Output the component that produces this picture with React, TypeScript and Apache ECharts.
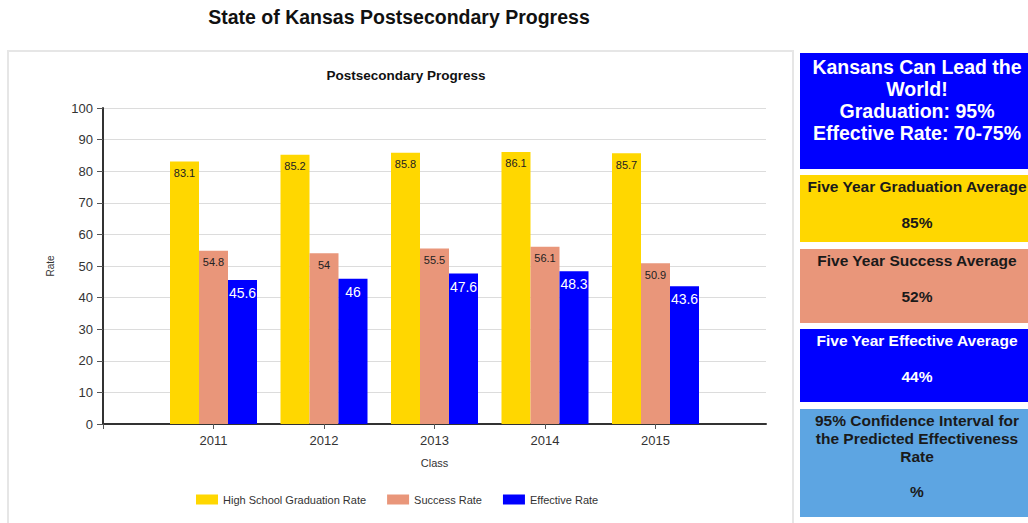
import React, { useEffect, useRef } from "react";
import * as echarts from "echarts";

const categories = ["", "2011", "2012", "2013", "2014", "2015", ""];
const gradRate = [null, 83.1, 85.2, 85.8, 86.1, 85.7, null];
const successRate = [null, 54.8, 54, 55.5, 56.1, 50.9, null];
const effectiveRate = [null, 45.6, 46, 47.6, 48.3, 43.6, null];
const seriesNames = ["High School Graduation Rate", "Success Rate", "Effective Rate"];
const yTicks = { min: 0, max: 100, interval: 10 };

const sideBoxes = [
  { lines: ["Kansans Can Lead the", "World!", "Graduation: 95%", "Effective Rate: 70-75%"], value: "" },
  { lines: ["Five Year Graduation Average"], value: "85%" },
  { lines: ["Five Year Success Average"], value: "52%" },
  { lines: ["Five Year Effective Average"], value: "44%" },
  { lines: ["95% Confidence Interval for", "the Predicted Effectiveness", "Rate"], value: "%" },
];

const FONT = "'Liberation Sans', Arial, sans-serif";
const YELLOW = "#FFD700";
const SALMON = "#E9967A";
const BLUE = "#0000FF";
const LIGHTBLUE = "#5DA5E2";

export default function App() {
  const ref = useRef<HTMLDivElement>(null);
  useEffect(() => {
    document.body.style.margin = "0";
    const chart = echarts.init(ref.current!, null, { renderer: "svg" });

    const boxLayout = [
      { y: 53, h: 116, fill: BLUE, color: "#ffffff", size: 19.5, lh: 22, firstY: 67, valueY: 0 },
      { y: 175, h: 67, fill: YELLOW, color: "#1a1a1a", size: 15.5, lh: 18, firstY: 186, valueY: 222 },
      { y: 249, h: 74, fill: SALMON, color: "#1a1a1a", size: 15.5, lh: 18, firstY: 260, valueY: 296 },
      { y: 329, h: 73, fill: BLUE, color: "#ffffff", size: 15.5, lh: 18, firstY: 340, valueY: 376 },
      { y: 409, h: 108, fill: LIGHTBLUE, color: "#1a1a1a", size: 15.5, lh: 18, firstY: 420, valueY: 491 },
    ];

    const graphics: any[] = [
      {
        type: "rect",
        shape: { x: 8, y: 51, width: 785, height: 490 },
        style: { fill: "none", stroke: "#e6e6e6", lineWidth: 2 },
        silent: true,
      },
    ];
    sideBoxes.forEach((b, i) => {
      const L = boxLayout[i];
      graphics.push({
        type: "rect",
        shape: { x: 800, y: L.y, width: 240, height: L.h },
        style: { fill: L.fill },
        silent: true,
      });
      b.lines.forEach((t, j) => {
        graphics.push({
          type: "text",
          x: 917,
          y: L.firstY + j * L.lh,
          style: {
            text: t,
            fill: L.color,
            font: `bold ${L.size}px ${FONT}`,
            textAlign: "center",
            textVerticalAlign: "middle",
          },
          silent: true,
        });
      });
      if (b.value) {
        graphics.push({
          type: "text",
          x: 917,
          y: L.valueY,
          style: {
            text: b.value,
            fill: L.color,
            font: `bold ${L.size}px ${FONT}`,
            textAlign: "center",
            textVerticalAlign: "middle",
          },
          silent: true,
        });
      }
    });

    const mkSeries = (name: string, data: any[], color: string, labelColor: string, labelSize: number) => ({
      name,
      type: "bar",
      data,
      barWidth: 29,
      barGap: "0%",
      itemStyle: { color },
      label: {
        show: true,
        position: "insideTop",
        distance: 6,
        color: labelColor,
        fontSize: labelSize,
        fontFamily: FONT,
      },
    });

    chart.setOption({
      animation: false,
      backgroundColor: "#ffffff",
      title: [
        {
          text: "State of Kansas Postsecondary Progress",
          left: 394,
          top: 2,
          textAlign: "center",
          textStyle: { fontSize: 19.5, fontWeight: "bold", color: "#111", fontFamily: FONT },
        },
        {
          text: "Postsecondary Progress",
          left: 401,
          top: 63,
          textAlign: "center",
          textStyle: { fontSize: 13.5, fontWeight: "bold", color: "#111", fontFamily: FONT },
        },
      ],
      legend: {
        left: 191,
        top: 489,
        itemWidth: 22,
        itemHeight: 10,
        itemGap: 21,
        icon: "rect",
        data: seriesNames,
        textStyle: { fontSize: 11, color: "#333", fontFamily: FONT },
      },
      grid: { left: 103, right: 262, top: 108, bottom: 99, containLabel: false },
      xAxis: {
        type: "category",
        data: categories,
        boundaryGap: false,
        name: "Class",
        nameLocation: "middle",
        nameGap: 33,
        nameTextStyle: { fontSize: 11, color: "#333", fontFamily: FONT },
        axisLine: { lineStyle: { color: "#333", width: 2 } },
        axisTick: { show: true, length: 5, interval: (i: number) => i < 6, lineStyle: { color: "#555" } },
        axisLabel: { interval: 0, fontSize: 13, color: "#333", margin: 10, fontFamily: FONT },
        splitLine: { show: false },
      },
      yAxis: {
        type: "value",
        min: yTicks.min,
        max: yTicks.max,
        interval: yTicks.interval,
        name: "Rate",
        nameLocation: "middle",
        nameGap: 48,
        nameRotate: 90,
        nameTextStyle: { fontSize: 10, color: "#333", fontFamily: FONT },
        axisLine: { show: true, lineStyle: { color: "#333", width: 2 } },
        axisTick: { show: true, length: 6, lineStyle: { color: "#555" } },
        axisLabel: { fontSize: 13, color: "#333", margin: 10, fontFamily: FONT },
        splitLine: { lineStyle: { color: "#dcdcdc", width: 1 } },
      },
      series: [
        mkSeries(seriesNames[0], gradRate, YELLOW, "#222", 11),
        mkSeries(seriesNames[1], successRate, SALMON, "#222", 11),
        mkSeries(seriesNames[2], effectiveRate, BLUE, "#ffffff", 14),
      ],
      graphic: graphics,
    });
    return () => chart.dispose();
  }, []);
  return <div ref={ref} style={{ width: 1028, height: 523 }} />;
}
